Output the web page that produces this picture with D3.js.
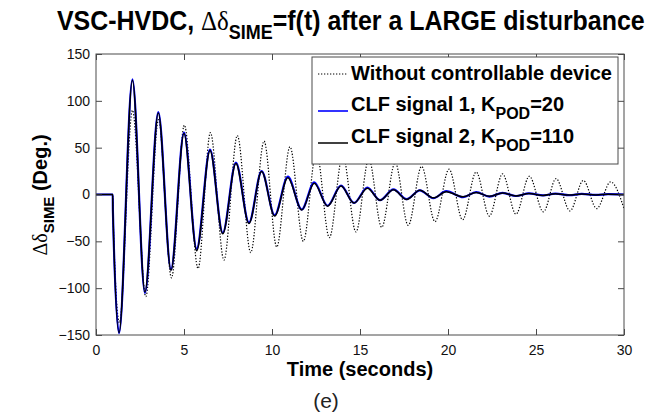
<!DOCTYPE html>
<html>

<head>
  <meta charset="utf-8">
  <title>VSC-HVDC delta SIME</title>
  <style>
    body { margin: 0; background: #fff; }
    text { font-family: Arial, "Liberation Sans", sans-serif; }
  </style>
</head>

<body>

  <svg id="main" width="650" height="412"></svg>

  <script src="https://cdn.jsdelivr.net/npm/d3@7"></script>
  <script>

    // extrema (seconds / degrees)
    const timeNoCtrl = [0, 0.95, 0.96, 1.33, 2.07, 2.83, 3.55, 4.29, 5.02, 5.8, 6.5, 7.27, 8.03, 8.79, 9.55,
      10.27, 11.02, 11.78, 12.52, 13.26, 14.02, 14.77, 15.5, 16.23, 17.0, 17.74, 18.5, 19.26, 20.06,
      20.83, 21.6, 22.35, 23.1, 23.86, 24.62, 25.42, 26.14, 26.93, 27.69, 28.45, 29.24, 30]
    const deltaNoCtrl = [0, 0, -17, -137, 90, -109, 80, -89, 74, -79, 66, -70, 63, -62, 57,
      -56, 51, -50, 46, -46, 42, -40, 38, -35, 34, -33, 30, -29, 27,
      -27, 24, -23, 22, -21, 19.5, -18.5, 17, -17.5, 15, -15, 13.5, -15]

    const timeClf = [0, 0.95, 0.96, 1.31, 2.07, 2.78, 3.54, 4.26, 5.0, 5.72, 6.48, 7.2, 7.95, 8.69, 9.41,
      10.15, 10.9, 11.69, 12.4, 13.16, 13.92, 14.66, 15.42, 16.14, 16.9, 17.65, 18.4, 19.17, 19.9,
      20.86, 21.6, 22.35, 23.1, 23.86, 24.6, 25.4, 26.1, 26.9, 27.6, 28.4, 29.1, 30]
    const deltaClf1 = [0, 0, -17, -148, 123, -105, 88, -80, 66, -58, 48, -41, 34, -30, 25,
      -22, 19, -16, 13, -12, 9.5, -9, 7.5, -6, 5.5, -5, 4.5, -4, 3.5,
      -2.8, 2.5, -2.2, 1.8, -1.6, 1.2, -1, 1, -0.8, 0.6, -0.5, 0.4, 0]
    const deltaClf2 = [0, 0, -17, -147.5, 122, -104, 87, -81, 65, -60, 47, -42, 33, -31, 24.5,
      -23, 18, -16.5, 12, -12.5, 9, -9.2, 6.7, -6.2, 5, -5.3, 4.5, -3.6, 3,
      -2.5, 2.2, -2, 1.5, -1.5, 1, -1, 0.8, -0.6, 0.5, -0.4, 0.3, 0]

    const xTicks = [0, 5, 10, 15, 20, 25, 30]
    const yTicks = [-150, -100, -50, 0, 50, 100, 150]

    const svg = d3.select('#main')
    const plot = { left: 96, right: 624, top: 54, bottom: 335 }

    const x = d3.scaleLinear().domain([0, 30]).range([plot.left, plot.right])
    const y = d3.scaleLinear().domain([-150, 150]).range([plot.bottom, plot.top])

    svg.append('defs').append('clipPath').attr('id', 'clip')
      .append('rect')
      .attr('x', plot.left).attr('y', plot.top)
      .attr('width', plot.right - plot.left).attr('height', plot.bottom - plot.top)

    // curves
    const line = d3.line()
      .x(d => x(d[0]))
      .y(d => y(d[1]))
      .curve(d3.curveMonotoneX)

    const series = [
      { t: timeNoCtrl, v: deltaNoCtrl, color: '#000', width: 1.2, dash: '1.3,1.7' },
      { t: timeClf, v: deltaClf1, color: '#0000ff', width: 2.2, dash: null },
      { t: timeClf, v: deltaClf2, color: '#000', width: 1.5, dash: null }
    ]

    const lines = svg.append('g').attr('clip-path', 'url(#clip)')
    series.forEach(s => {
      lines.append('path')
        .datum(d3.zip(s.t, s.v))
        .attr('fill', 'none')
        .attr('stroke', s.color)
        .attr('stroke-width', s.width)
        .attr('stroke-dasharray', s.dash)
        .attr('d', line)
    })

    // axes, MATLAB style: box with inward ticks
    const tickLen = 6
    const axisColor = '#4a4a4a'
    const axes = svg.append('g')
    axes.append('rect')
      .attr('x', plot.left).attr('y', plot.top)
      .attr('width', plot.right - plot.left).attr('height', plot.bottom - plot.top)
      .attr('fill', 'none').attr('stroke', axisColor).attr('stroke-width', 1)

    axes.append('g').attr('transform', `translate(0,${plot.bottom})`)
      .call(d3.axisBottom(x).tickValues(xTicks).tickSizeInner(-tickLen).tickSizeOuter(0).tickPadding(10))
    axes.append('g').attr('transform', `translate(0,${plot.top})`)
      .call(d3.axisTop(x).tickValues(xTicks).tickSizeInner(-tickLen).tickSizeOuter(0).tickFormat(''))
    axes.append('g').attr('transform', `translate(${plot.left},0)`)
      .call(d3.axisLeft(y).tickValues(yTicks).tickSizeInner(-tickLen).tickSizeOuter(0).tickPadding(6))
    axes.append('g').attr('transform', `translate(${plot.right},0)`)
      .call(d3.axisRight(y).tickValues(yTicks).tickSizeInner(-tickLen).tickSizeOuter(0).tickFormat(''))

    axes.selectAll('.domain').remove()
    axes.selectAll('.tick line').attr('stroke', axisColor)
    axes.selectAll('.tick text')
      .attr('font-size', '14px')
      .attr('font-family', 'Arial, "Liberation Sans", sans-serif')
      .attr('fill', '#111')

    // texts with subscripts
    function addSub(t, main, sub, rest, size, greek, subScale = 0.72, drop = 0.3) {
      if (greek) {
        t.append('tspan').text(greek)
          .attr('font-family', '"Liberation Serif", "Times New Roman", serif')
          .attr('font-weight', 'normal')
      } else {
        t.append('tspan').text(main)
      }
      t.append('tspan').text(sub).attr('font-size', size * subScale + 'px').attr('dy', size * drop)
      t.append('tspan').text(rest).attr('dy', -size * drop)
    }

    // title
    const titleSize = 28
    const title = svg.append('text')
      .attr('x', 57).attr('y', 30)
      .attr('font-size', titleSize + 'px')
      .attr('font-weight', 'bold')
      .attr('fill', '#000')
    title.append('tspan').text('VSC-HVDC, ')
    addSub(title, null, 'SIME', '=f(t) after a LARGE disturbance', titleSize, 'Δδ', 0.72, 0.32)
    const tw = title.node().getBBox().width
    title.attr('transform', `translate(57,0) scale(${588 / tw},1) translate(-57,0)`)

    // axis labels
    svg.append('text')
      .attr('x', 360).attr('y', 376)
      .attr('text-anchor', 'middle')
      .attr('font-size', '20px')
      .attr('font-weight', 'bold')
      .text('Time (seconds)')

    const ylab = svg.append('text')
      .attr('transform', 'translate(47,195) rotate(-90)')
      .attr('text-anchor', 'middle')
      .attr('font-size', '20px')
      .attr('font-weight', 'bold')
    addSub(ylab, null, 'SIME', ' (Deg.)', 20, 'Δδ', 0.75, 0.35)

    svg.append('text')
      .attr('x', 326).attr('y', 408)
      .attr('text-anchor', 'middle')
      .attr('font-size', '21px')
      .attr('fill', '#222')
      .text('(e)')

    // legend
    const legend = svg.append('g')
    legend.append('rect')
      .attr('x', 312).attr('y', 57)
      .attr('width', 306).attr('height', 107)
      .attr('fill', '#fff').attr('stroke', axisColor).attr('stroke-width', 1)

    const legendRows = [
      { y: 80, main: 'Without controllable device' },
      { y: 111, main: 'CLF signal 1, K', sub: 'POD', rest: '=20' },
      { y: 143, main: 'CLF signal 2, K', sub: 'POD', rest: '=110' }
    ]
    legendRows.forEach((r, i) => {
      const s = series[i]
      legend.append('line')
        .attr('x1', 318).attr('x2', 348)
        .attr('y1', r.y - (r.sub ? 0 : 6)).attr('y2', r.y - (r.sub ? 0 : 6))
        .attr('stroke', s.color)
        .attr('stroke-width', i === 1 ? 1.6 : (i === 0 ? 1 : 1.5))
        .attr('stroke-dasharray', s.dash)
      const t = legend.append('text')
        .attr('x', 351).attr('y', r.y)
        .attr('font-size', '20px')
        .attr('font-weight', 'bold')
      if (r.sub) addSub(t, r.main, r.sub, r.rest, 20, null, 0.8, 0.4)
      else t.text(r.main)
    })

  </script>
</body>

</html>
